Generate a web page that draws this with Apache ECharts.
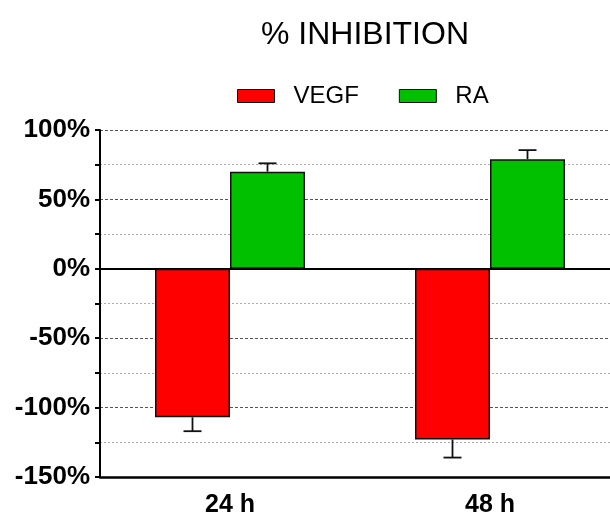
<!DOCTYPE html>
<html>
<head>
<meta charset="utf-8">
<script src="https://cdn.jsdelivr.net/npm/echarts@6/dist/echarts.min.js"></script>
<style>
  html, body { margin: 0; padding: 0; background: #fff; }
  #chart { width: 610px; height: 517px; }
</style>
</head>
<body>
<div id="chart"></div>
<script>
// data
const categories = ['24 h', '48 h'];
const vegf = [-107, -123];
const vegfErr = [10, 13];
const ra = [70, 79];
const raErr = [6, 6.5];

const barWidth = 75;
const font = '"Liberation Sans", Arial, sans-serif';

const chart = echarts.init(document.getElementById('chart'));

// error bar drawn away from zero, side = -1 left bar / +1 right bar
const errorBar = (side) => (params, api) => {
  const idx = api.value(0);
  const v = api.value(1);
  const e = api.value(2);
  const sign = v < 0 ? -1 : 1;
  const p0 = api.coord([idx, v]);
  const p1 = api.coord([idx, v + sign * e]);
  const x = p0[0] + side * barWidth / 2;
  const style = { stroke: '#111', lineWidth: 1.8 };
  return {
    type: 'group',
    children: [
      { type: 'line', shape: { x1: x, y1: p0[1], x2: x, y2: p1[1] }, style: style },
      { type: 'line', shape: { x1: x - 9, y1: p1[1], x2: x + 9, y2: p1[1] }, style: style }
    ]
  };
};

const option = {
  animation: false,
  title: {
    text: '% INHIBITION',
    left: 360,
    textAlign: 'center',
    top: 14,
    textStyle: { fontFamily: font, fontSize: 32, fontWeight: 'normal', color: '#000' }
  },
  legend: {
    data: ['VEGF', 'RA'],
    left: 232,
    top: 79,
    icon: 'rect',
    itemWidth: 37,
    itemHeight: 13,
    itemGap: 40,
    itemStyle: { borderColor: '#111', borderWidth: 1 },
    textStyle: { fontFamily: font, fontSize: 24, color: '#000', padding: [0, 0, 0, 14] }
  },
  grid: { left: 100, width: 520, top: 130, bottom: 40, outerBoundsMode: 'none' },
  xAxis: {
    type: 'category',
    data: categories,
    axisLine: { onZero: false, lineStyle: { color: '#000', width: 2.5 } },
    axisTick: { show: false },
    axisLabel: { fontFamily: font, fontSize: 25, fontWeight: 'bold', color: '#000', margin: 16 }
  },
  yAxis: {
    type: 'value',
    min: -150,
    max: 100,
    interval: 50,
    axisLine: { show: true, lineStyle: { color: '#000', width: 2 } },
    axisTick: { show: true, length: 5, lineStyle: { color: '#000', width: 2 } },
    minorTick: { show: true, splitNumber: 2, length: 5, lineStyle: { color: '#000', width: 2 } },
    axisLabel: {
      fontFamily: font, fontSize: 26, fontWeight: 'bold', color: '#000', margin: 10,
      formatter: v => v + '%'
    },
    splitLine: { show: true, lineStyle: { color: '#555', type: [3, 2], width: 1 } },
    minorSplitLine: { show: true, lineStyle: { color: '#aaa', type: [2, 2], width: 1 } }
  },
  series: [
    {
      name: 'VEGF',
      type: 'bar',
      data: vegf,
      barWidth: barWidth,
      barGap: '0%',
      itemStyle: { color: '#ff0000', borderColor: '#111', borderWidth: 1.5 },
      markLine: {
        silent: true,
        symbol: 'none',
        label: { show: false },
        lineStyle: { color: '#000', type: 'solid', width: 2 },
        data: [{ yAxis: 0 }]
      }
    },
    {
      name: 'RA',
      type: 'bar',
      data: ra,
      barWidth: barWidth,
      barGap: '0%',
      itemStyle: { color: '#00c000', borderColor: '#111', borderWidth: 1.5 }
    },
    {
      type: 'custom',
      renderItem: errorBar(-1),
      data: vegf.map((v, i) => [i, v, vegfErr[i]]),
      z: 3
    },
    {
      type: 'custom',
      renderItem: errorBar(1),
      data: ra.map((v, i) => [i, v, raErr[i]]),
      z: 3
    }
  ]
};

chart.setOption(option);
</script>
</body>
</html>
